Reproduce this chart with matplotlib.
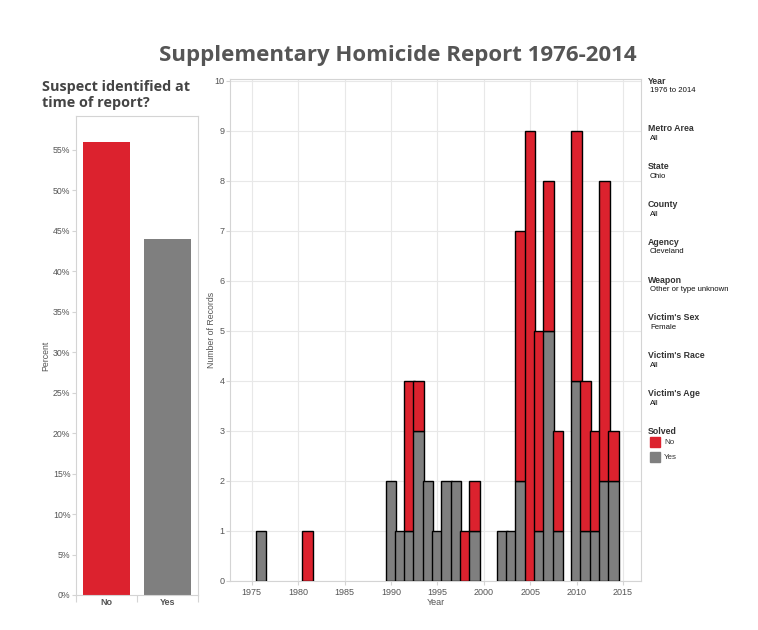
import matplotlib
matplotlib.use("Agg")
import matplotlib.pyplot as plt
from matplotlib.patches import Rectangle

# ---------------- data ----------------
years = [1976, 1981, 1990, 1991, 1992, 1993, 1994, 1995, 1996, 1997, 1998, 1999,
         2002, 2003, 2004, 2005, 2006, 2007, 2008, 2010, 2011, 2012, 2013, 2014]
solved_yes = [1, 0, 2, 1, 1, 3, 2, 1, 2, 2, 0, 1,
              1, 1, 2, 0, 1, 5, 1, 4, 1, 1, 2, 2]
solved_no = [0, 1, 0, 0, 3, 1, 0, 0, 0, 0, 1, 1,
             0, 0, 5, 9, 4, 3, 2, 5, 3, 2, 6, 1]
categories = ["No", "Yes"]
pct_ticks = [0, 5, 10, 15, 20, 25, 30, 35, 40, 45, 50, 55]
year_ticks = [1975, 1980, 1985, 1990, 1995, 2000, 2005, 2010, 2015]
count_ticks = list(range(0, 11))

filter_items = [
    ("Year", "1976 to 2014"),
    ("Metro Area", "All"),
    ("State", "Ohio"),
    ("County", "All"),
    ("Agency", "Cleveland"),
    ("Weapon", "Other or type unknown"),
    ("Victim's Sex", "Female"),
    ("Victim's Race", "All"),
    ("Victim's Age", "All"),
]

RED = "#dc222e"
GRAY = "#7f7f7f"
TXT = "#555555"
GRID = "#e8e8e8"
FRAME = "#d4d4d4"

W, H = 758, 630
fig = plt.figure(figsize=(W / 100, H / 100), dpi=100)
plt.rcParams["font.family"] = ["Liberation Sans", "DejaVu Sans"]


def rect(l, t, r, b):
    return [l / W, 1 - b / H, (r - l) / W, (b - t) / H]


def fx(x):
    return x / W


def fy(y):
    return 1 - y / H


# ---------------- title ----------------
fig.text(fx(398), fy(55), "Supplementary Homicide Report 1976-2014",
         ha="center", va="center", fontsize=16, fontweight="bold",
         color="#555555", family=["Open Sans", "DejaVu Sans"])

fig.text(fx(42), fy(95), "Suspect identified at\ntime of report?",
         ha="left", va="center", fontsize=10.4, fontweight="bold",
         color="#444444", family=["Open Sans", "DejaVu Sans"], linespacing=1.15)

# ---------------- left chart ----------------
total_no = sum(solved_no)
total_yes = sum(solved_yes)
total = total_no + total_yes
percents = [total_no / total * 100, total_yes / total * 100]

axl = fig.add_axes(rect(76, 116, 198, 595))
axl.bar([0, 1], percents, width=0.78, color=[RED, GRAY], zorder=2)
axl.set_xlim(-0.5, 1.5)
axl.set_ylim(0, 59.2)
axl.set_yticks(pct_ticks)
axl.set_yticklabels([f"{p}%" for p in pct_ticks])
axl.set_xticks([0, 1])
axl.set_xticklabels(categories, fontweight="bold")
axl.set_xticks([-0.5, 0.5, 1.5], minor=True)
axl.tick_params(axis="x", which="major", length=0, pad=2, labelsize=6.5, labelcolor=TXT)
axl.tick_params(axis="x", which="minor", length=5, color=FRAME, width=0.8)
axl.tick_params(axis="y", length=3, color=FRAME, width=0.8, pad=1, labelsize=6.3, labelcolor=TXT)
for s in axl.spines.values():
    s.set_color(FRAME)
    s.set_linewidth(0.8)
axl.set_ylabel("Percent", fontsize=6.3, color=TXT, labelpad=2)

# ---------------- main chart ----------------
axm = fig.add_axes(rect(230, 79, 641, 581))
axm.set_xlim(1972.66, 2016.95)
axm.set_ylim(0, 10.03)
for i, yr in enumerate(years):
    z = 3 + i
    if solved_yes[i] > 0:
        axm.bar(yr, solved_yes[i], width=1.15, color=GRAY, edgecolor="black",
                linewidth=1.0, zorder=z)
    if solved_no[i] > 0:
        axm.bar(yr, solved_no[i], bottom=solved_yes[i], width=1.15, color=RED,
                edgecolor="black", linewidth=1.0, zorder=z)
axm.set_xticks(year_ticks)
axm.set_yticks(count_ticks)
axm.grid(True, color=GRID, linewidth=0.8, zorder=0)
axm.set_axisbelow(True)
axm.tick_params(axis="x", length=3, color=FRAME, width=0.8, pad=2, labelsize=6.5, labelcolor=TXT)
axm.tick_params(axis="y", length=3, color=FRAME, width=0.8, pad=1, labelsize=6.5, labelcolor=TXT)
for s in axm.spines.values():
    s.set_color(FRAME)
    s.set_linewidth(0.8)
axm.set_xlabel("Year", fontsize=6.5, color=TXT, labelpad=1)
axm.set_ylabel("Number of Records", fontsize=6.3, color=TXT, labelpad=-1)

# ---------------- filter / legend panel ----------------
positions = [81] + [129 + k * 37.8 for k in range(len(filter_items) - 1)]
for (head, val), yy in zip(filter_items, positions):
    fig.text(fx(648), fy(yy), head, ha="left", va="center", fontsize=6.3,
             fontweight="bold", color="#333333")
    fig.text(fx(650), fy(yy + 9.5), val, ha="left", va="center", fontsize=5.6,
             color="#111111")

yy = positions[-1] + 37.8
fig.text(fx(648), fy(yy), "Solved", ha="left", va="center", fontsize=6.3,
         fontweight="bold", color="#333333")
for j, (lab, col) in enumerate(zip(categories, [RED, GRAY])):
    cy = yy + 11 + j * 15
    fig.patches.append(Rectangle((fx(650), fy(cy + 5)), 10 / W, 10 / H,
                                 transform=fig.transFigure, color=col))
    fig.text(fx(664), fy(cy), lab, ha="left", va="center", fontsize=5.8,
             color="#333333")

fig.savefig("out.png", dpi=100)
